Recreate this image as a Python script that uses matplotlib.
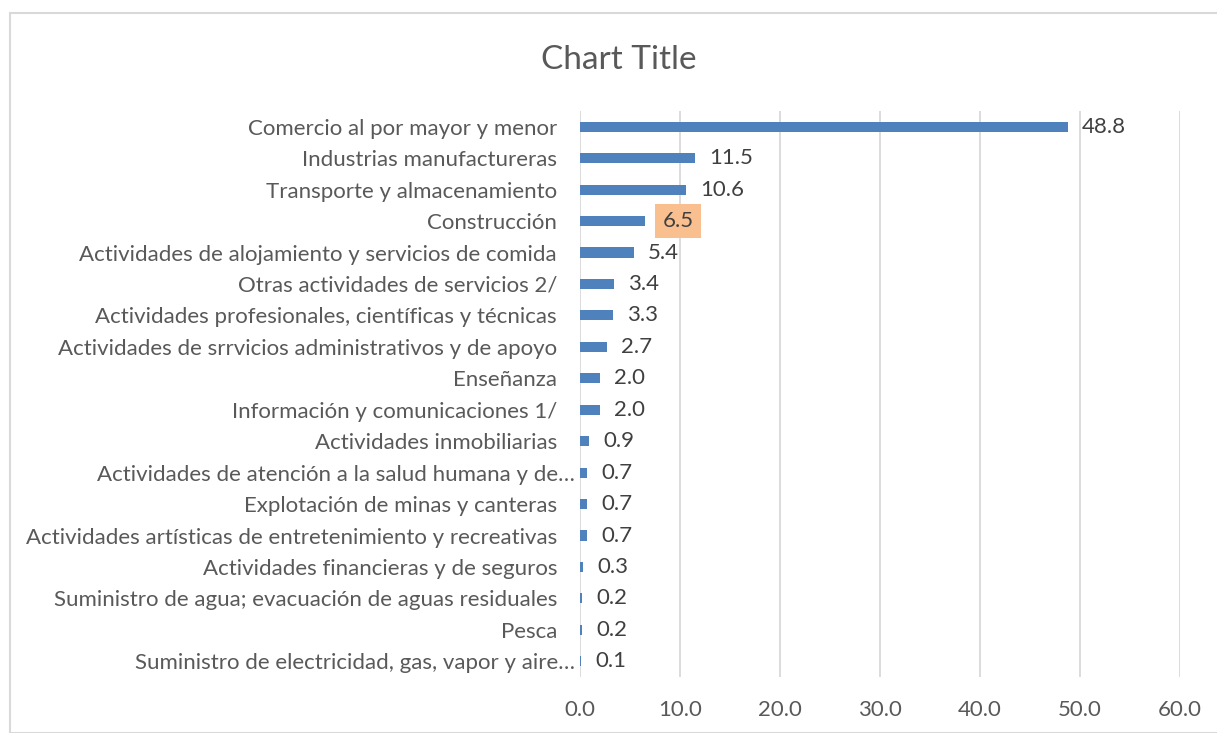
import matplotlib
matplotlib.use("Agg")
import matplotlib.pyplot as plt
from matplotlib.patches import Rectangle
from matplotlib.transforms import ScaledTranslation

categories = [
    "Comercio al por mayor y menor",
    "Industrias manufactureras",
    "Transporte y almacenamiento",
    "Construcción",
    "Actividades de alojamiento y servicios de comida",
    "Otras actividades de servicios 2/",
    "Actividades profesionales, científicas y técnicas",
    "Actividades de srrvicios administrativos y de apoyo",
    "Enseñanza",
    "Información y comunicaciones 1/",
    "Actividades inmobiliarias",
    "Actividades de atención a la salud humana y de…",
    "Explotación de minas y canteras",
    "Actividades artísticas de entretenimiento y recreativas",
    "Actividades financieras y de seguros",
    "Suministro de agua; evacuación de aguas residuales",
    "Pesca",
    "Suministro de electricidad, gas, vapor y aire…",
]
values = [48.8, 11.5, 10.6, 6.5, 5.4, 3.4, 3.3, 2.7, 2.0, 2.0, 0.9, 0.7, 0.7, 0.7, 0.3, 0.2, 0.2, 0.1]
highlight = "Construcción"
xticks = [0, 10, 20, 30, 40, 50, 60]
title = "Chart Title"

plt.rcParams['font.family'] = ['Lato', 'DejaVu Sans']

W, H = 1217, 733
FS = 16
fig = plt.figure(figsize=(W / 100, H / 100), dpi=100)

# chart-area border
fig.patches.append(Rectangle((10 / W, 0), 1.2, 1 - 13 / H, transform=fig.transFigure,
                             fill=False, edgecolor="#D9D9D9", linewidth=1.5))

ax = fig.add_axes([580 / W, 1 - 677 / H, 600 / W, 566 / H])
y = list(range(len(categories)))
ax.barh(y, values, height=0.32, color="#4F81BD", zorder=3)
ax.set_ylim(len(categories) - 0.5, -0.5)
ax.set_xlim(0, 60)
ax.set_xticks(xticks)
ax.set_xticklabels([f"{t:.1f}" for t in xticks])
ax.set_yticks(y)
ax.set_yticklabels(categories)
ax.grid(axis="x", color="#D9D9D9", linewidth=1.3, zorder=0)
for s in ax.spines.values():
    s.set_visible(False)
ax.tick_params(axis="both", length=0, labelcolor="#595959", labelsize=FS)
ax.tick_params(axis="y", pad=16.5)
ax.tick_params(axis="x", pad=16.5)

# truncated labels sit closer to the axis
for lab in ax.get_yticklabels():
    if lab.get_text().endswith("…"):
        lab.set_transform(lab.get_transform() + ScaledTranslation(18 / 100, 0, fig.dpi_scale_trans))

for yi, (c, v) in enumerate(zip(categories, values)):
    kw = {}
    off = 10
    if c == highlight:
        kw["bbox"] = dict(boxstyle="square,pad=0.33", facecolor="#F9BF8E", edgecolor="none")
        off = 12.5
    ax.annotate(f"{v:.1f}", (v, yi), xytext=(off, 0), textcoords="offset points",
                ha="left", va="center", fontsize=FS, color="#404040", zorder=4, **kw)

fig.text(619 / W, 1 - 60 / H, title, ha="center", va="center", fontsize=24, color="#595959")

fig.savefig("out.png", dpi=100)
